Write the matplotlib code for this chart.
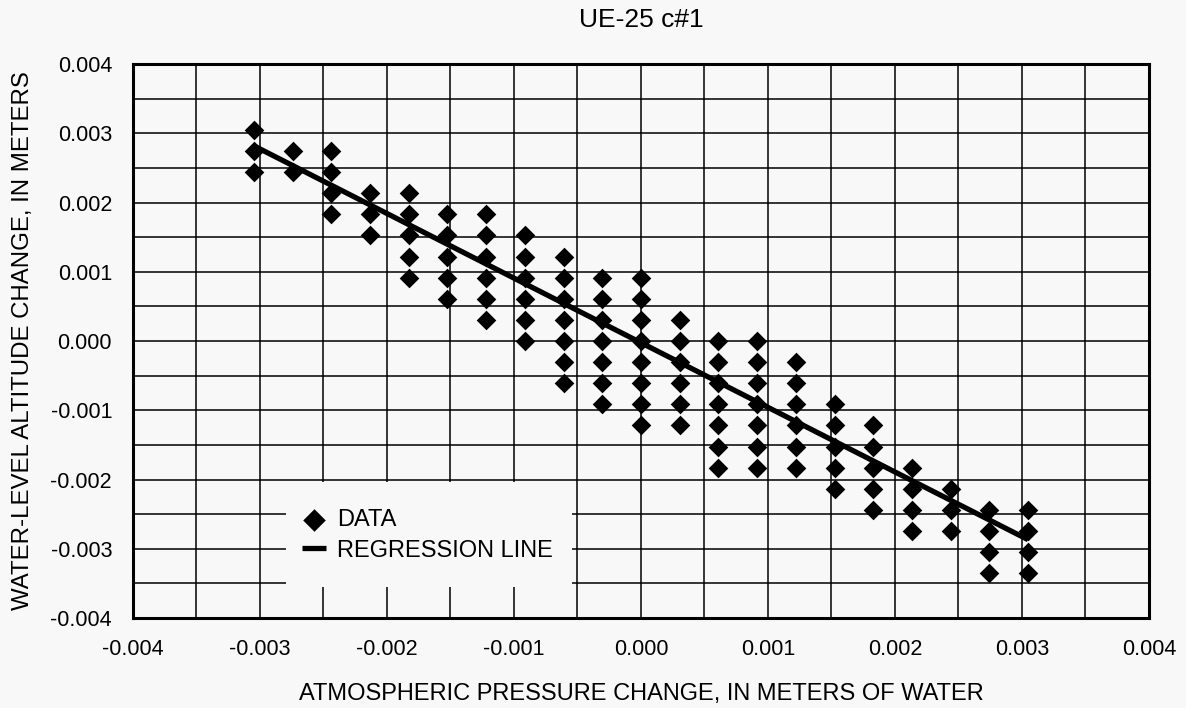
import numpy as np
import matplotlib
matplotlib.use("Agg")
import matplotlib.pyplot as plt
from matplotlib.patches import Rectangle
from matplotlib.ticker import MultipleLocator, FormatStrFormatter

plt.rcParams['font.family'] = ['Liberation Sans', 'DejaVu Sans']

# data: values recorded in 0.001 ft steps, converted to meters
STEP = 0.0003048
x_steps = [-10, -9, -8, -7, -6, -5, -4, -3, -2, -1, 0, 1, 2, 3, 4, 5, 6, 7, 8, 9, 10]
y_steps = [
    [10, 9, 8],
    [9, 8],
    [9, 8, 7, 6],
    [7, 6, 5],
    [7, 6, 5, 4, 3],
    [6, 5, 4, 3, 2],
    [6, 5, 4, 3, 2, 1],
    [5, 4, 3, 2, 1, 0],
    [4, 3, 2, 1, 0, -1, -2],
    [3, 2, 1, 0, -1, -2, -3],
    [3, 2, 1, 0, -1, -2, -3, -4],
    [1, 0, -1, -2, -3, -4],
    [0, -1, -2, -3, -4, -5, -6],
    [0, -1, -2, -3, -4, -5, -6],
    [-1, -2, -3, -4, -5, -6],
    [-3, -4, -5, -6, -7],
    [-4, -5, -6, -7, -8],
    [-6, -7, -8, -9],
    [-7, -8, -9],
    [-8, -9, -10, -11],
    [-8, -9, -10, -11],
]

# regression line as drawn in the reference
reg_slope = -0.933
reg_intercept = -0.000025

xs = []
ys = []
for k, col in zip(x_steps, y_steps):
    for v in col:
        xs.append(k * STEP)
        ys.append(v * STEP)
xs = np.array(xs)
ys = np.array(ys)

xline = np.array([xs.min(), xs.max()])
yline = reg_slope * xline + reg_intercept

BG = '#f8f8f8'
fig = plt.figure(figsize=(11.86, 7.08), dpi=100, facecolor=BG)
ax = fig.add_axes([0.1121, 0.1271, 0.8567, 0.7825])
ax.set_facecolor(BG)

ax.set_xlim(-0.004, 0.004)
ax.set_ylim(-0.004, 0.004)
ax.xaxis.set_major_locator(MultipleLocator(0.001))
ax.yaxis.set_major_locator(MultipleLocator(0.001))
ax.xaxis.set_minor_locator(MultipleLocator(0.0005))
ax.yaxis.set_minor_locator(MultipleLocator(0.0005))
ax.xaxis.set_major_formatter(FormatStrFormatter('%.3f'))
ax.yaxis.set_major_formatter(FormatStrFormatter('%.3f'))
ax.tick_params(which='both', length=0)
ax.tick_params(which='major', labelsize=15.5, pad=15)
ax.set_axisbelow(True)
ax.grid(True, which='both', color='black', linewidth=1.1)
for sp in ax.spines.values():
    sp.set_linewidth(2.2)
    sp.set_zorder(5)

# blank box behind legend, hiding the grid
ax.add_patch(Rectangle((0.1506, 0.056), 0.2814, 0.19, transform=ax.transAxes,
                       facecolor=BG, edgecolor='none', zorder=1))

ax.scatter(xs, ys, marker='D', s=10 ** 2, color='black', linewidths=0,
           zorder=3, label='DATA')
ax.plot(xline, yline, color='black', linewidth=3.8, zorder=4,
        solid_capstyle='butt', label='REGRESSION LINE')

leg = ax.legend(loc='upper left', bbox_to_anchor=(0.1663, 0.196), frameon=False,
                fontsize=17, handlelength=1.0, handletextpad=0.47,
                labelspacing=0.35, borderpad=0, borderaxespad=0,
                scatterpoints=1, markerscale=1.15)

ax.set_xlabel('ATMOSPHERIC PRESSURE CHANGE, IN METERS OF WATER', fontsize=17)
ax.xaxis.set_label_coords(0.5, -0.118)
ax.set_ylabel('WATER-LEVEL ALTITUDE CHANGE, IN METERS', fontsize=17.3)
ax.yaxis.set_label_coords(-0.097, 0.5)
fig.text(0.5405, 1 - 20 / 708, 'UE-25 c#1', fontsize=19, ha='center', va='center')

fig.savefig('out.png', dpi=100, facecolor=BG)
